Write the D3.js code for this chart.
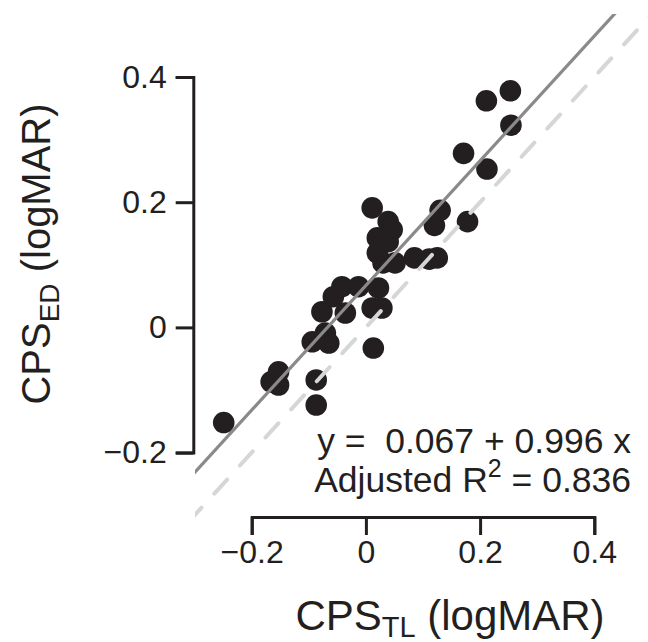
<!DOCTYPE html>
<html>
<head>
<meta charset="utf-8">
<script src="https://cdn.jsdelivr.net/npm/d3@7"></script>
<style>
  html, body { margin: 0; padding: 0; background: #fff; }
  svg { display: block; font-family: "Liberation Sans", Arial, Helvetica, sans-serif; }
</style>
</head>
<body>
<svg id="chart"></svg>
<script>
// CPS measured with the two methods (logMAR)
const cpsTL = [-0.249, -0.166, -0.153, -0.153, -0.094, -0.087, -0.087, -0.077, -0.071, -0.065,
  -0.057, -0.042, -0.036, -0.013, 0.011, 0.013, 0.022, 0.028, 0.011, 0.020,
  0.020, 0.030, 0.039, 0.046, 0.039, 0.051, 0.085, 0.111, 0.125, 0.120,
  0.130, 0.178, 0.171, 0.212, 0.211, 0.253, 0.254];
const cpsED = [-0.152, -0.087, -0.071, -0.092, -0.023, -0.084, -0.124, 0.025, -0.009, -0.025,
  0.049, 0.065, 0.023, 0.065, 0.031, -0.033, 0.063, 0.031, 0.191, 0.143,
  0.119, 0.103, 0.169, 0.156, 0.137, 0.103, 0.111, 0.109, 0.111, 0.163,
  0.187, 0.169, 0.278, 0.253, 0.362, 0.378, 0.323];

const fitIntercept = 0.067;
const fitSlope = 0.996;
const adjR2 = 0.836;

const xTicks = [-0.2, 0, 0.2, 0.4];
const xTickLabels = ['\u22120.2', '0', '0.2', '0.4'];
const yTicks = [-0.2, 0, 0.2, 0.4];
const yTickLabels = ['\u22120.2', '0', '0.2', '0.4'];

const W = 648, H = 642;
const ink = '#231f20';

const svg = d3.select('#chart').attr('width', W).attr('height', H);

const x = d3.scaleLinear().domain([-0.2, 0.4]).range([251.7, 594.3]);
const y = d3.scaleLinear().domain([-0.2, 0.4]).range([452.6, 77]);

// plot region used for clipping the lines
svg.append('clipPath').attr('id', 'plotClip')
  .append('rect').attr('x', 195).attr('y', 14).attr('width', W - 195).attr('height', 503);

// points
svg.append('g')
  .selectAll('circle')
  .data(cpsTL.map((d, i) => [d, cpsED[i]]))
  .join('circle')
  .attr('cx', d => x(d[0]))
  .attr('cy', d => y(d[1]))
  .attr('r', 10.8)
  .attr('fill', ink);

const lineGen = d3.line().x(d => x(d[0])).y(d => y(d[1]));
const span = [-0.4, 0.6];

// identity line
svg.append('path')
  .attr('clip-path', 'url(#plotClip)')
  .attr('d', lineGen(span.map(v => [v, v])))
  .attr('fill', 'none')
  .attr('stroke', '#d6d6d6')
  .attr('stroke-width', 4)
  .attr('stroke-linecap', 'round')
  .attr('stroke-dasharray', '19,19');

// regression line
svg.append('path')
  .attr('clip-path', 'url(#plotClip)')
  .attr('d', lineGen(span.map(v => [v, fitIntercept + fitSlope * v])))
  .attr('fill', 'none')
  .attr('stroke', '#8a8a8a')
  .attr('stroke-width', 3.2);

// axes
const xAxis = d3.axisBottom(x)
  .tickValues(xTicks)
  .tickFormat((d, i) => xTickLabels[i])
  .tickSize(18).tickSizeOuter(18).tickPadding(5);

const yAxis = d3.axisLeft(y)
  .tickValues(yTicks)
  .tickFormat((d, i) => yTickLabels[i])
  .tickSize(17.6).tickSizeOuter(17.6).tickPadding(9);

const gx = svg.append('g').attr('transform', 'translate(0,517)').call(xAxis);
const gy = svg.append('g').attr('transform', 'translate(193.3,0)').call(yAxis);

[gx, gy].forEach(g => {
  g.selectAll('path, line').attr('stroke', ink).attr('stroke-width', 3);
  g.selectAll('text').attr('fill', ink).style('font-size', '32px')
    .style('font-family', '"Liberation Sans", Arial, sans-serif');
});

// fit annotation
const ann = svg.append('g').attr('fill', ink).style('font-size', '35.5px');
ann.append('text')
  .attr('x', 631).attr('y', 453)
  .attr('text-anchor', 'end')
  .style('white-space', 'pre')
  .text(`y =  ${fitIntercept.toFixed(3)} + ${fitSlope.toFixed(3)} x`);
const r2 = ann.append('text')
  .attr('x', 631).attr('y', 492)
  .attr('text-anchor', 'end');
r2.append('tspan').text('Adjusted R');
r2.append('tspan').attr('dy', -15).style('font-size', '25px').text('2');
r2.append('tspan').attr('dy', 15).text(` = ${adjR2.toFixed(3)}`);

// axis titles
const xt = svg.append('text')
  .attr('x', 450).attr('y', 630)
  .attr('text-anchor', 'middle')
  .attr('fill', ink)
  .style('font-size', '42px');
xt.append('tspan').text('CPS');
xt.append('tspan').attr('dy', 7).style('font-size', '29px').text('TL');
xt.append('tspan').attr('dy', -7).text(' (logMAR)');

const yt = svg.append('text')
  .attr('transform', 'translate(50,254) rotate(-90)')
  .attr('text-anchor', 'middle')
  .attr('fill', ink)
  .style('font-size', '40px');
yt.append('tspan').text('CPS');
yt.append('tspan').attr('dy', 9).style('font-size', '28px').text('ED');
yt.append('tspan').attr('dy', -9).text(' (logMAR)');
</script>
</body>
</html>
